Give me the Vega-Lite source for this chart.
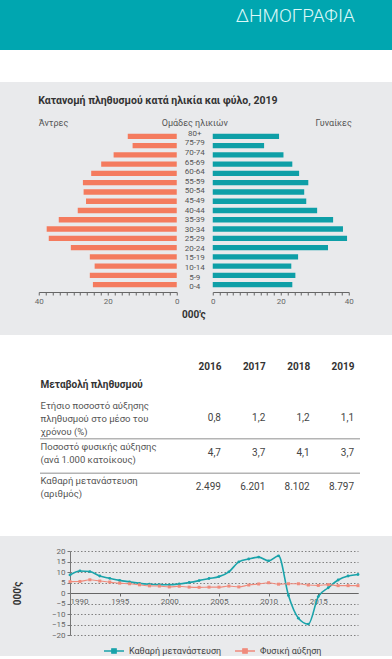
{
  "$schema": "https://vega.github.io/schema/vega-lite/v6.json",
  "background": "#e9eaec",
  "padding": 0,
  "spacing": 15,
  "resolve": {"legend": {"color": "independent"}},
  "config": {
    "view": {"stroke": null},
    "font": "Roboto",
    "locale": {"number": {"decimal": ",", "thousands": ".", "grouping": [3], "currency": ["", " €"]}},
    "axis": {"labelFont": "Roboto", "titleFont": "Roboto"},
    "title": {"font": "Roboto"},
    "legend": {"labelFont": "Roboto"},
    "text": {"font": "Roboto"}
  },
  "datasets": {
    "pyr": [
      {"age": "80+", "sex": "Άντρες", "value": 14.2}, {"age": "75-79", "sex": "Άντρες", "value": 12.8},
      {"age": "70-74", "sex": "Άντρες", "value": 18.3}, {"age": "65-69", "sex": "Άντρες", "value": 21.9},
      {"age": "60-64", "sex": "Άντρες", "value": 24.8}, {"age": "55-59", "sex": "Άντρες", "value": 27.2},
      {"age": "50-54", "sex": "Άντρες", "value": 27.0}, {"age": "45-49", "sex": "Άντρες", "value": 26.3},
      {"age": "40-44", "sex": "Άντρες", "value": 28.7}, {"age": "35-39", "sex": "Άντρες", "value": 34.2},
      {"age": "30-34", "sex": "Άντρες", "value": 37.7}, {"age": "25-29", "sex": "Άντρες", "value": 37.1},
      {"age": "20-24", "sex": "Άντρες", "value": 30.7}, {"age": "15-19", "sex": "Άντρες", "value": 25.2},
      {"age": "10-14", "sex": "Άντρες", "value": 23.8}, {"age": "5-9", "sex": "Άντρες", "value": 25.2},
      {"age": "0-4", "sex": "Άντρες", "value": 24.3},
      {"age": "80+", "sex": "Γυναίκες", "value": 19.5}, {"age": "75-79", "sex": "Γυναίκες", "value": 15.1},
      {"age": "70-74", "sex": "Γυναίκες", "value": 20.8}, {"age": "65-69", "sex": "Γυναίκες", "value": 23.4},
      {"age": "60-64", "sex": "Γυναίκες", "value": 25.4}, {"age": "55-59", "sex": "Γυναίκες", "value": 28.1},
      {"age": "50-54", "sex": "Γυναίκες", "value": 26.9}, {"age": "45-49", "sex": "Γυναίκες", "value": 27.5},
      {"age": "40-44", "sex": "Γυναίκες", "value": 30.7}, {"age": "35-39", "sex": "Γυναίκες", "value": 35.4},
      {"age": "30-34", "sex": "Γυναίκες", "value": 38.3}, {"age": "25-29", "sex": "Γυναίκες", "value": 39.5},
      {"age": "20-24", "sex": "Γυναίκες", "value": 33.9}, {"age": "15-19", "sex": "Γυναίκες", "value": 25.1},
      {"age": "10-14", "sex": "Γυναίκες", "value": 23.1}, {"age": "5-9", "sex": "Γυναίκες", "value": 24.3},
      {"age": "0-4", "sex": "Γυναίκες", "value": 23.4}
    ],
    "seps": [
      {"row": "Ετήσιο ποσοστό αύξησης|πληθυσμού στο μέσο του|χρόνου (%)"},
      {"row": "Ποσοστό φυσικής αύξησης|(ανά 1.000 κατοίκους)"}
    ],
    "tbl": [
      {"row": "Ετήσιο ποσοστό αύξησης|πληθυσμού στο μέσο του|χρόνου (%)", "year": "2016", "value": 0.8},
      {"row": "Ετήσιο ποσοστό αύξησης|πληθυσμού στο μέσο του|χρόνου (%)", "year": "2017", "value": 1.2},
      {"row": "Ετήσιο ποσοστό αύξησης|πληθυσμού στο μέσο του|χρόνου (%)", "year": "2018", "value": 1.2},
      {"row": "Ετήσιο ποσοστό αύξησης|πληθυσμού στο μέσο του|χρόνου (%)", "year": "2019", "value": 1.1},
      {"row": "Ποσοστό φυσικής αύξησης|(ανά 1.000 κατοίκους)", "year": "2016", "value": 4.7},
      {"row": "Ποσοστό φυσικής αύξησης|(ανά 1.000 κατοίκους)", "year": "2017", "value": 3.7},
      {"row": "Ποσοστό φυσικής αύξησης|(ανά 1.000 κατοίκους)", "year": "2018", "value": 4.1},
      {"row": "Ποσοστό φυσικής αύξησης|(ανά 1.000 κατοίκους)", "year": "2019", "value": 3.7},
      {"row": "Καθαρή μετανάστευση|(αριθμός)", "year": "2016", "value": 2499},
      {"row": "Καθαρή μετανάστευση|(αριθμός)", "year": "2017", "value": 6201},
      {"row": "Καθαρή μετανάστευση|(αριθμός)", "year": "2018", "value": 8102},
      {"row": "Καθαρή μετανάστευση|(αριθμός)", "year": "2019", "value": 8797}
    ],
    "line": [
      {"year": 1990, "series": "Καθαρή μετανάστευση", "value": 8.6},
      {"year": 1991, "series": "Καθαρή μετανάστευση", "value": 10.5},
      {"year": 1992, "series": "Καθαρή μετανάστευση", "value": 10.2},
      {"year": 1993, "series": "Καθαρή μετανάστευση", "value": 8.1},
      {"year": 1994, "series": "Καθαρή μετανάστευση", "value": 7.0},
      {"year": 1995, "series": "Καθαρή μετανάστευση", "value": 6.0},
      {"year": 1996, "series": "Καθαρή μετανάστευση", "value": 5.3},
      {"year": 1997, "series": "Καθαρή μετανάστευση", "value": 4.6},
      {"year": 1998, "series": "Καθαρή μετανάστευση", "value": 4.2},
      {"year": 1999, "series": "Καθαρή μετανάστευση", "value": 4.0},
      {"year": 2000, "series": "Καθαρή μετανάστευση", "value": 3.9},
      {"year": 2001, "series": "Καθαρή μετανάστευση", "value": 4.3},
      {"year": 2002, "series": "Καθαρή μετανάστευση", "value": 5.0},
      {"year": 2003, "series": "Καθαρή μετανάστευση", "value": 5.9},
      {"year": 2004, "series": "Καθαρή μετανάστευση", "value": 6.9},
      {"year": 2005, "series": "Καθαρή μετανάστευση", "value": 7.8},
      {"year": 2006, "series": "Καθαρή μετανάστευση", "value": 10.1},
      {"year": 2007, "series": "Καθαρή μετανάστευση", "value": 14.8},
      {"year": 2008, "series": "Καθαρή μετανάστευση", "value": 16.2},
      {"year": 2009, "series": "Καθαρή μετανάστευση", "value": 17.1},
      {"year": 2010, "series": "Καθαρή μετανάστευση", "value": 15.3},
      {"year": 2011, "series": "Καθαρή μετανάστευση", "value": 17.7},
      {"year": 2012, "series": "Καθαρή μετανάστευση", "value": -1.2},
      {"year": 2013, "series": "Καθαρή μετανάστευση", "value": -12.0},
      {"year": 2014, "series": "Καθαρή μετανάστευση", "value": -14.8},
      {"year": 2015, "series": "Καθαρή μετανάστευση", "value": -1.7},
      {"year": 2016, "series": "Καθαρή μετανάστευση", "value": 2.5},
      {"year": 2017, "series": "Καθαρή μετανάστευση", "value": 6.2},
      {"year": 2018, "series": "Καθαρή μετανάστευση", "value": 8.1},
      {"year": 2019, "series": "Καθαρή μετανάστευση", "value": 8.8},
      {"year": 1990, "series": "Φυσική αύξηση", "value": 5.4},
      {"year": 1991, "series": "Φυσική αύξηση", "value": 5.5},
      {"year": 1992, "series": "Φυσική αύξηση", "value": 6.3},
      {"year": 1993, "series": "Φυσική αύξηση", "value": 5.7},
      {"year": 1994, "series": "Φυσική αύξηση", "value": 5.2},
      {"year": 1995, "series": "Φυσική αύξηση", "value": 4.7},
      {"year": 1996, "series": "Φυσική αύξηση", "value": 4.4},
      {"year": 1997, "series": "Φυσική αύξηση", "value": 3.9},
      {"year": 1998, "series": "Φυσική αύξηση", "value": 3.4},
      {"year": 1999, "series": "Φυσική αύξηση", "value": 3.3},
      {"year": 2000, "series": "Φυσική αύξηση", "value": 2.9},
      {"year": 2001, "series": "Φυσική αύξηση", "value": 3.2},
      {"year": 2002, "series": "Φυσική αύξηση", "value": 2.8},
      {"year": 2003, "series": "Φυσική αύξηση", "value": 2.7},
      {"year": 2004, "series": "Φυσική αύξηση", "value": 2.8},
      {"year": 2005, "series": "Φυσική αύξηση", "value": 2.8},
      {"year": 2006, "series": "Φυσική αύξηση", "value": 3.3},
      {"year": 2007, "series": "Φυσική αύξηση", "value": 2.9},
      {"year": 2008, "series": "Φυσική αύξηση", "value": 3.8},
      {"year": 2009, "series": "Φυσική αύξηση", "value": 4.3},
      {"year": 2010, "series": "Φυσική αύξηση", "value": 4.9},
      {"year": 2011, "series": "Φυσική αύξηση", "value": 4.2},
      {"year": 2012, "series": "Φυσική αύξηση", "value": 4.4},
      {"year": 2013, "series": "Φυσική αύξηση", "value": 4.4},
      {"year": 2014, "series": "Φυσική αύξηση", "value": 3.8},
      {"year": 2015, "series": "Φυσική αύξηση", "value": 3.6},
      {"year": 2016, "series": "Φυσική αύξηση", "value": 4.0},
      {"year": 2017, "series": "Φυσική αύξηση", "value": 3.5},
      {"year": 2018, "series": "Φυσική αύξηση", "value": 3.5},
      {"year": 2019, "series": "Φυσική αύξηση", "value": 3.5}
    ]
  },
  "vconcat": [
    {
      "center": true,
      "spacing": 0,
      "vconcat": [
        {
          "width": 392, "height": 50,
          "view": {"fill": "#00a6b0"},
          "title": {"text": "ΔΗΜΟΓΡΑΦΙΑ", "orient": "top", "anchor": "end", "offset": 0, "baseline": "alphabetic", "dy": 41, "dx": -37, "fontSize": 19, "fontWeight": 300, "color": "#dcf8f8"},
          "data": {"values": []},
          "mark": "point",
          "encoding": {}
        },
        {
          "width": 392, "height": 32,
          "view": {"fill": "#ffffff"},
          "data": {"values": []},
          "mark": "point",
          "encoding": {}
        },
        {
          "width": 392, "height": 13,
          "data": {"values": []},
          "mark": "point",
          "encoding": {}
        },
        {
          "title": {"text": "000'ς", "orient": "bottom", "anchor": "middle", "fontSize": 10, "fontWeight": "bold", "color": "#333333", "offset": 5},
          "vconcat": [
            {
              "title": {"text": "Κατανομή πληθυσμού κατά ηλικία και φύλο, 2019", "anchor": "start", "fontSize": 10.5, "fontWeight": "bold", "color": "#333333", "offset": 13, "dx": 4},
              "spacing": 0,
              "bounds": "flush",
              "hconcat": [
                {
                  "width": 138, "height": 163,
                  "data": {"name": "pyr"},
                  "transform": [{"filter": "datum.sex == 'Άντρες'"}],
                  "title": {"text": "Άντρες", "anchor": "start", "frame": "group", "fontSize": 9, "fontWeight": "normal", "color": "#555555", "offset": 1},
                  "mark": {"type": "bar", "color": "#f47b5e"},
                  "encoding": {
                    "y": {"field": "age", "type": "nominal", "scale": {"domain": ["80+","75-79","70-74","65-69","60-64","55-59","50-54","45-49","40-44","35-39","30-34","25-29","20-24","15-19","10-14","5-9","0-4"], "paddingInner": 0.42, "paddingOuter": 0.5}, "axis": null},
                    "x": {"field": "value", "type": "quantitative", "scale": {"domain": [0, 40], "reverse": true, "nice": false},
                      "axis": {"title": null, "values": [0,2,4,6,8,10,12,14,16,18,20,22,24,26,28,30,32,34,36,38,40], "labelExpr": "datum.value % 20 == 0 ? datum.label : ''", "grid": false, "domainColor": "#666666", "tickColor": "#666666", "tickSize": 3, "labelFontSize": 8, "labelColor": "#666666", "labelPadding": 2, "labelOverlap": false, "labelFlush": false}}
                  }
                },
                {
                  "width": 36, "height": 163,
                  "data": {"name": "pyr"},
                  "transform": [{"filter": "datum.sex == 'Άντρες'"}],
                  "title": {"text": "Ομάδες ηλικιών", "anchor": "middle", "frame": "group", "fontSize": 9, "fontWeight": "normal", "color": "#555555", "offset": 1},
                  "mark": {"type": "text", "fontSize": 8, "color": "#555555"},
                  "encoding": {
                    "y": {"field": "age", "type": "nominal", "scale": {"domain": ["80+","75-79","70-74","65-69","60-64","55-59","50-54","45-49","40-44","35-39","30-34","25-29","20-24","15-19","10-14","5-9","0-4"], "paddingInner": 0.42, "paddingOuter": 0.5}, "axis": null},
                    "text": {"field": "age"}
                  }
                },
                {
                  "width": 136, "height": 163,
                  "data": {"name": "pyr"},
                  "transform": [{"filter": "datum.sex == 'Γυναίκες'"}],
                  "title": {"text": "Γυναίκες", "anchor": "end", "frame": "group", "fontSize": 9, "fontWeight": "normal", "color": "#555555", "offset": 1, "dx": 3},
                  "mark": {"type": "bar", "color": "#0e9fa7"},
                  "encoding": {
                    "y": {"field": "age", "type": "nominal", "scale": {"domain": ["80+","75-79","70-74","65-69","60-64","55-59","50-54","45-49","40-44","35-39","30-34","25-29","20-24","15-19","10-14","5-9","0-4"], "paddingInner": 0.42, "paddingOuter": 0.5}, "axis": null},
                    "x": {"field": "value", "type": "quantitative", "scale": {"domain": [0, 40], "nice": false},
                      "axis": {"title": null, "values": [0,2,4,6,8,10,12,14,16,18,20,22,24,26,28,30,32,34,36,38,40], "labelExpr": "datum.value % 20 == 0 ? datum.label : ''", "grid": false, "domainColor": "#666666", "tickColor": "#666666", "tickSize": 3, "labelFontSize": 8, "labelColor": "#666666", "labelPadding": 2, "labelOverlap": false, "labelFlush": false}}
                  }
                }
              ]
            }
          ]
        }
      ]
    },
    {
      "spacing": 11,
      "resolve": {"legend": {"color": "independent"}},
      "vconcat": [
        {
          "spacing": 0,
          "bounds": "flush",
          "hconcat": [
            {"width": 40, "height": 201, "view": {"fill": "#ffffff"}, "data": {"values": []}, "mark": "point", "encoding": {}},
            {
              "width": 175, "height": 201,
              "view": {"fill": "#ffffff"},
              "data": {"name": "seps"},
              "mark": {"type": "rule", "color": "#b4b4b4", "strokeWidth": 1.5, "yOffset": 20.5},
              "encoding": {
                "y": {"field": "row", "type": "nominal",
                  "scale": {"type": "point", "domain": ["Μεταβολή πληθυσμού", "Ετήσιο ποσοστό αύξησης|πληθυσμού στο μέσο του|χρόνου (%)", "Ποσοστό φυσικής αύξησης|(ανά 1.000 κατοίκους)", "Καθαρή μετανάστευση|(αριθμός)"], "range": [49, 152], "padding": 0},
                  "axis": {"title": null, "orient": "left", "domain": false, "ticks": false, "tickSize": 0, "labelAlign": "left", "labelPadding": 0, "labelBaseline": "middle", "labelExpr": "split(datum.label, '|')", "labelLineHeight": 13, "labelLimit": 0, "labelOverlap": false,
                    "labelOffset": {"condition": [{"test": "length(split(datum.value, '|')) == 3", "value": -13}, {"test": "length(split(datum.value, '|')) == 2", "value": -6.5}], "value": 0},
                    "labelFontSize": {"condition": {"test": "datum.value == 'Μεταβολή πληθυσμού'", "value": 10}, "value": 9.5},
                    "labelFontWeight": {"condition": {"test": "datum.value == 'Μεταβολή πληθυσμού'", "value": "bold"}, "value": "normal"},
                    "labelColor": {"condition": {"test": "datum.value == 'Μεταβολή πληθυσμού'", "value": "#333333"}, "value": "#555555"}}
                }
              }
            },
            {
              "width": 145, "height": 201,
              "view": {"fill": "#ffffff"},
              "layer": [
                {
                  "data": {"name": "seps"},
                  "mark": {"type": "rule", "color": "#b4b4b4", "strokeWidth": 1.5, "yOffset": 20.5},
                  "encoding": {
                    "y": {"field": "row", "type": "nominal", "scale": {"type": "point", "domain": ["Μεταβολή πληθυσμού", "Ετήσιο ποσοστό αύξησης|πληθυσμού στο μέσο του|χρόνου (%)", "Ποσοστό φυσικής αύξησης|(ανά 1.000 κατοίκους)", "Καθαρή μετανάστευση|(αριθμός)"], "range": [49, 152], "padding": 0}, "axis": null}
                  }
                },
                {
                  "data": {"name": "tbl"},
                  "transform": [{"filter": "datum.row != 'Καθαρή μετανάστευση|(αριθμός)'"}],
                  "mark": {"type": "text", "align": "right", "baseline": "middle", "fontSize": 10, "color": "#444444"},
                  "encoding": {
                    "x": {"field": "year", "type": "ordinal", "scale": {"type": "point", "domain": ["2016","2017","2018","2019"], "padding": 0.135},
                      "axis": {"orient": "top", "offset": -36, "title": null, "domain": false, "ticks": false, "tickSize": 0, "labelPadding": 0, "labelAlign": "right", "labelAngle": 0, "labelFontSize": 10, "labelFontWeight": "bold", "labelColor": "#333333"}},
                    "y": {"field": "row", "type": "nominal", "scale": {"type": "point", "domain": ["Μεταβολή πληθυσμού", "Ετήσιο ποσοστό αύξησης|πληθυσμού στο μέσο του|χρόνου (%)", "Ποσοστό φυσικής αύξησης|(ανά 1.000 κατοίκους)", "Καθαρή μετανάστευση|(αριθμός)"], "range": [49, 152], "padding": 0}, "axis": null},
                    "text": {"field": "value", "type": "quantitative", "format": ".1f"}
                  }
                },
                {
                  "data": {"name": "tbl"},
                  "transform": [{"filter": "datum.row == 'Καθαρή μετανάστευση|(αριθμός)'"}],
                  "mark": {"type": "text", "align": "right", "baseline": "middle", "fontSize": 10, "color": "#444444"},
                  "encoding": {
                    "x": {"field": "year", "type": "ordinal"},
                    "y": {"field": "row", "type": "nominal"},
                    "text": {"field": "value", "type": "quantitative", "format": ",d"}
                  }
                }
              ]
            },
            {"width": 32, "height": 201, "view": {"fill": "#ffffff"}, "data": {"values": []}, "mark": "point", "encoding": {}}
          ]
        },
        {
          "spacing": 0,
          "resolve": {"legend": {"color": "independent"}},
          "hconcat": [
            {"width": 12, "height": 10, "data": {"values": []}, "mark": "point", "encoding": {}},
            {
              "width": 288, "height": 84,
              "data": {"name": "line"},
              "encoding": {
                "x": {"field": "year", "type": "quantitative", "scale": {"domain": [1990, 2019], "nice": false, "zero": false},
                  "axis": {"title": null, "offset": -42, "values": [1990, 1995, 2000, 2005, 2010, 2015], "format": "d", "grid": false, "domainColor": "#666666", "tickColor": "#666666", "tickSize": 3, "labelFontSize": 8, "labelColor": "#666666", "labelPadding": 1, "labelFlush": true}},
                "y": {"field": "value", "type": "quantitative", "scale": {"domain": [-20, 20], "nice": false},
                  "axis": {"title": "000'ς", "values": [-20,-15,-10,-5,0,5,10,15,20], "grid": true, "gridDash": [1.5, 2], "gridColor": "#666666", "gridWidth": 0.8, "domainColor": "#777777", "tickColor": "#777777", "tickSize": 3, "labelFontSize": 8, "labelColor": "#666666", "labelPadding": 2, "titleFontSize": 10, "titleFontWeight": "bold", "titleColor": "#333333", "titlePadding": 29}},
                "color": {"field": "series", "type": "nominal", "scale": {"domain": ["Καθαρή μετανάστευση", "Φυσική αύξηση"], "range": ["#1aa3aa", "#f08b7c"]},
                  "legend": {"orient": "none", "legendX": 33, "legendY": 89, "padding": 0, "direction": "horizontal", "title": null, "symbolType": "M-1,0H1M-0.22,-0.22H0.22V0.22H-0.22Z", "symbolSize": 400, "symbolStrokeWidth": 1.3, "labelFontSize": 9, "labelColor": "#444444", "columnPadding": 10, "labelOffset": 4}}
              },
              "layer": [
                {"mark": {"type": "line", "interpolate": "monotone"},
                  "encoding": {"strokeWidth": {"field": "series", "type": "nominal", "scale": {"domain": ["Καθαρή μετανάστευση", "Φυσική αύξηση"], "range": [1.6, 1.1]}, "legend": null}}},
                {"transform": [{"filter": "datum.series == 'Καθαρή μετανάστευση'"}],
                  "mark": {"type": "point", "filled": true, "size": 8, "opacity": 1, "shape": "circle"}},
                {"transform": [{"filter": "datum.series == 'Φυσική αύξηση'"}],
                  "mark": {"type": "point", "filled": true, "size": 9, "opacity": 1, "shape": "square"}}
              ]
            }
          ]
        }
      ]
    }
  ]
}
